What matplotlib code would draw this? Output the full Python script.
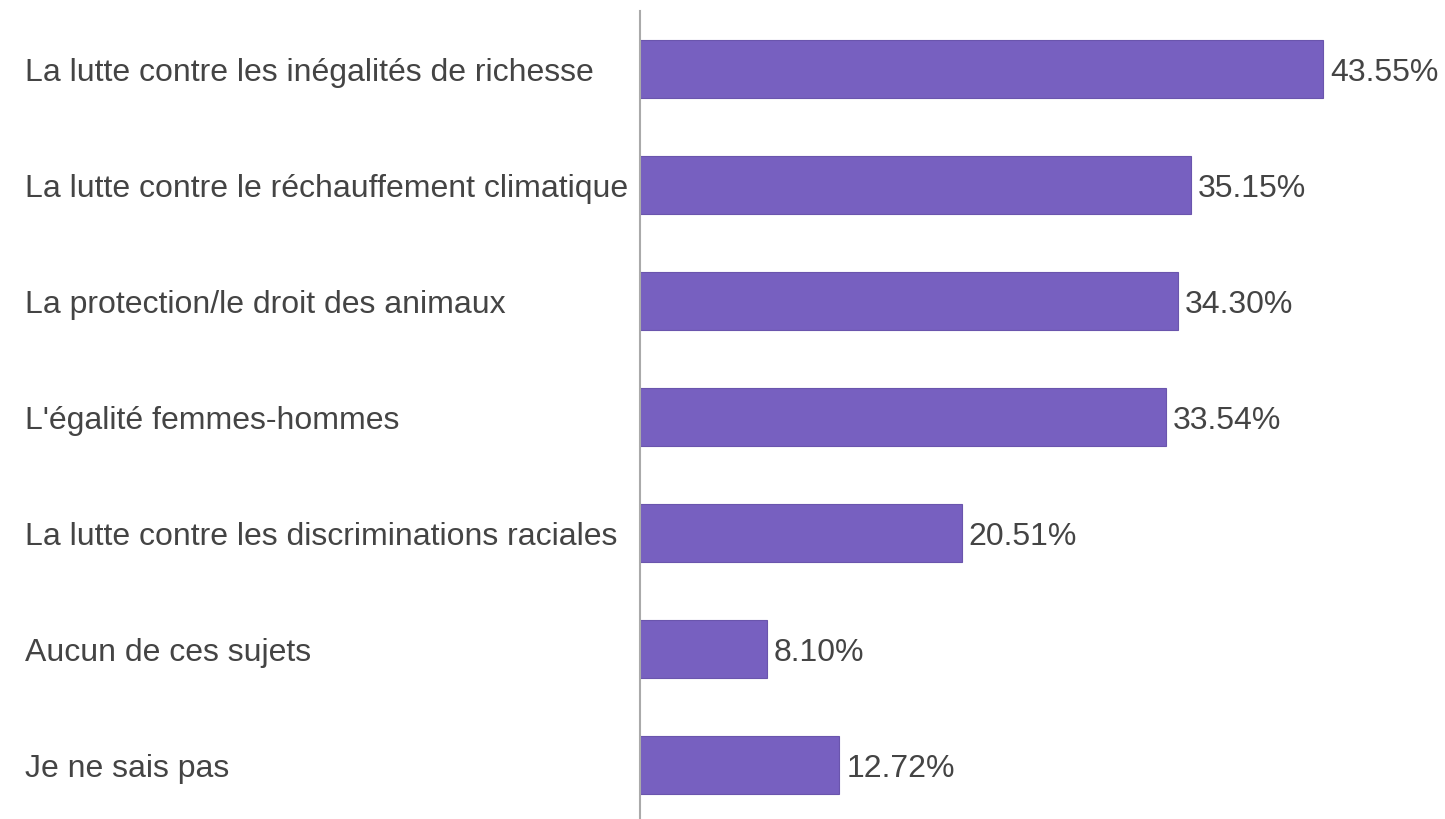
import matplotlib
matplotlib.use("Agg")
import matplotlib.pyplot as plt
import matplotlib.transforms as mtransforms

categories = [
    "La lutte contre les inégalités de richesse",
    "La lutte contre le réchauffement climatique",
    "La protection/le droit des animaux",
    "L'égalité femmes-hommes",
    "La lutte contre les discriminations raciales",
    "Aucun de ces sujets",
    "Je ne sais pas",
]
values = [43.55, 35.15, 34.30, 33.54, 20.51, 8.10, 12.72]
value_labels = ["43.55%", "35.15%", "34.30%", "33.54%", "20.51%", "8.10%", "12.72%"]

plt.rcParams['font.family'] = ['Liberation Sans', 'DejaVu Sans']

fig = plt.figure(figsize=(14.45, 8.2), dpi=100)
ax = fig.add_axes([640/1445, -4/820, 1 - 640/1445, (820 - 12 + 4)/820])

ypos = list(range(len(categories)))
ax.barh(ypos, values, height=0.5, color="#7760C0", edgecolor="#6a55ad", linewidth=0.8)
ax.set_ylim(len(categories) - 0.5, -0.5)
ax.set_xlim(0, (1445 - 640) / 15.68)

text_off = mtransforms.ScaledTranslation(0, -3/100, fig.dpi_scale_trans)

for y, v, lab in zip(ypos, values, value_labels):
    ax.text(v + 0.45, y, lab, va="center", ha="left", fontsize=23, color="#444444",
            transform=ax.transData + text_off)

ax.set_yticks(ypos)
ax.set_yticklabels([])
blend = mtransforms.blended_transform_factory(fig.transFigure, ax.transData)
for y, c in zip(ypos, categories):
    ax.text(25/1445, y, c, transform=blend + text_off,
            ha="left", va="center", fontsize=23, color="#444444")

ax.set_xticks([])
ax.tick_params(left=False)
for s in ["top", "right", "bottom"]:
    ax.spines[s].set_visible(False)
ax.spines["left"].set_color("#aaaaaa")
ax.spines["left"].set_linewidth(1.5)

fig.savefig("out.png", dpi=100, facecolor="white")
